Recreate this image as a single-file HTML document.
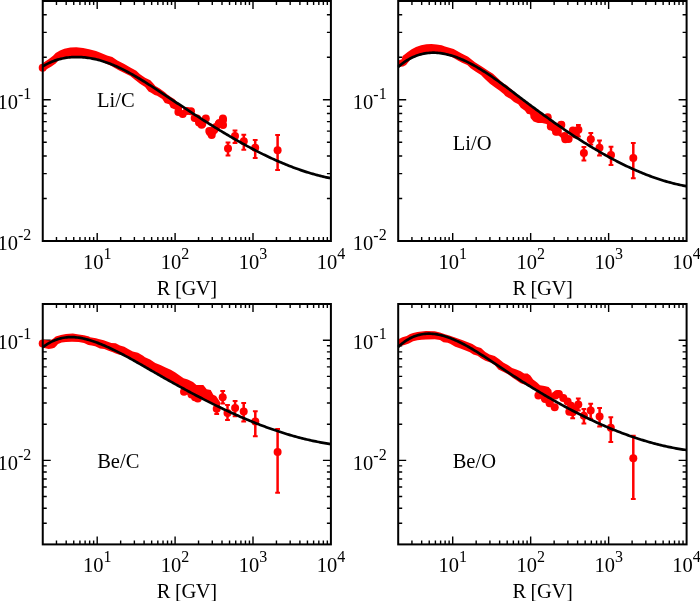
<!DOCTYPE html>
<html><head><meta charset="utf-8"><style>
html,body{margin:0;padding:0;background:#fff;}
svg{display:block;will-change:transform;}
text{font-family:"Liberation Serif",serif;font-size:20.5px;fill:#000;}
</style></head><body>
<svg width="700" height="601" viewBox="0 0 700 601">
<path d="M56.47 241v-4M56.47 1v4M66.2 241v-4M66.2 1v4M73.75 241v-4M73.75 1v4M79.92 241v-4M79.92 1v4M85.13 241v-4M85.13 1v4M89.65 241v-4M89.65 1v4M93.64 241v-4M93.64 1v4M97.2 241v-8M97.2 1v8M120.65 241v-4M120.65 1v4M134.37 241v-4M134.37 1v4M144.1 241v-4M144.1 1v4M151.65 241v-4M151.65 1v4M157.82 241v-4M157.82 1v4M163.03 241v-4M163.03 1v4M167.55 241v-4M167.55 1v4M171.54 241v-4M171.54 1v4M175.1 241v-8M175.1 1v8M198.55 241v-4M198.55 1v4M212.27 241v-4M212.27 1v4M222 241v-4M222 1v4M229.55 241v-4M229.55 1v4M235.72 241v-4M235.72 1v4M240.93 241v-4M240.93 1v4M245.45 241v-4M245.45 1v4M249.44 241v-4M249.44 1v4M253 241v-8M253 1v8M276.45 241v-4M276.45 1v4M290.17 241v-4M290.17 1v4M299.9 241v-4M299.9 1v4M307.45 241v-4M307.45 1v4M313.62 241v-4M313.62 1v4M318.83 241v-4M318.83 1v4M323.35 241v-4M323.35 1v4M327.34 241v-4M327.34 1v4M42.75 198.48h4M330.9 198.48h-4M42.75 173.6h4M330.9 173.6h-4M42.75 155.95h4M330.9 155.95h-4M42.75 142.26h4M330.9 142.26h-4M42.75 131.08h4M330.9 131.08h-4M42.75 121.62h4M330.9 121.62h-4M42.75 113.43h4M330.9 113.43h-4M42.75 106.2h4M330.9 106.2h-4M42.75 99.74h8M330.9 99.74h-8M42.75 57.21h4M330.9 57.21h-4M42.75 32.34h4M330.9 32.34h-4M42.75 14.69h4M330.9 14.69h-4" stroke="#000" stroke-width="1.4" fill="none"/>
<g fill="#ff0000"><path d="M42 63.4 L43.7 62.6 L48.9 59.1 L53.1 55.7 L55.7 53.1 L60 50.6 L64.3 48.7 L70.3 47.6 L76.3 47.3 L83.1 48 L89.1 49.3 L96 51 L98.6 52 L107.1 55.4 L112.3 57.1 L117.4 60.6 L124.3 64 L130.3 67.4 L136.3 70.8 L140 74.3 L145.1 77.7 L150.3 80.3 L152.9 82.9 L155.4 85.9 L159.7 88.4 L164.9 92.3 L167.4 94.4 L171.7 97.4 L174.3 99.1 L178.6 103.4 L182 106 L182 110 L176 110 L170.8 107.7 L169.1 104.3 L164.9 103 L162.3 99.1 L157.1 95.7 L154.6 94.9 L151.1 92.7 L148.6 91.4 L145.1 87.1 L140 83.7 L134.6 79.4 L130.3 76 L124.3 73 L118.3 70 L111.4 66.1 L104.6 63.1 L100 60.5 L90 58.2 L80 57 L70 57 L60 58 L57.9 60.9 L55.7 63.4 L51.4 66.4 L47.1 69 L43.3 71.1 L42 71.2Z"/><circle cx="42.7" cy="67.7" r="4.0"/><circle cx="178.4" cy="112.1" r="4.0"/><circle cx="182.7" cy="114" r="4.0"/><circle cx="187" cy="111" r="4.0"/><circle cx="191" cy="111.3" r="4.0"/><circle cx="194.7" cy="118.1" r="4.0"/><circle cx="197.1" cy="118.6" r="4.0"/><circle cx="199" cy="122.4" r="4.0"/><circle cx="201.6" cy="124.7" r="4.0"/><circle cx="202.3" cy="123.7" r="4.0"/><circle cx="205.8" cy="118.6" r="4.0"/><circle cx="209.3" cy="131" r="4.0"/><circle cx="210" cy="132.3" r="4.0"/><circle cx="211.7" cy="134.9" r="4.0"/><circle cx="212.6" cy="131.4" r="4.0"/><circle cx="213.6" cy="130.1" r="4.0"/><circle cx="214.3" cy="129.7" r="4.0"/><circle cx="216" cy="127.1" r="4.0"/><circle cx="218.7" cy="124.1" r="4.0"/><circle cx="219.4" cy="122.9" r="4.0"/><circle cx="222.9" cy="118.6" r="4.0"/><circle cx="223" cy="119.9" r="4.0"/><circle cx="223" cy="125" r="4.0"/><circle cx="228" cy="148.6" r="4.0"/><circle cx="235" cy="136.1" r="4.0"/><circle cx="243.8" cy="141.3" r="4.0"/><circle cx="255.2" cy="147.7" r="4.0"/><circle cx="277.6" cy="150.2" r="4.0"/></g>
<path d="M228 142.6V155.4M235 130.6V143M243.8 134.8V149.8M255.2 140V158M277.6 135V170.1" stroke="#ff0000" stroke-width="2.5" fill="none"/>
<path d="M225.6 142.6h4.8M225.6 155.4h4.8M232.6 130.6h4.8M232.6 143h4.8M241.4 134.8h4.8M241.4 149.8h4.8M252.8 140h4.8M252.8 158h4.8M275.2 135h4.8M275.2 170.1h4.8" stroke="#ff0000" stroke-width="2" fill="none"/>
<path d="M42.75 66.35 L44.25 65.46 L45.75 64.63 L47.25 63.84 L48.75 63.11 L50.25 62.42 L51.75 61.77 L53.25 61.18 L54.75 60.63 L56.25 60.12 L57.75 59.65 L59.25 59.23 L60.75 58.85 L62.25 58.5 L63.75 58.2 L65.25 57.93 L66.75 57.7 L68.25 57.51 L69.75 57.35 L71.25 57.22 L72.75 57.13 L74.25 57.06 L75.75 57.03 L77.25 57.03 L78.75 57.06 L80.25 57.11 L81.75 57.2 L83.25 57.31 L84.75 57.45 L86.25 57.62 L87.75 57.81 L89.25 58.03 L90.75 58.28 L92.25 58.56 L93.75 58.86 L95.25 59.18 L96.75 59.54 L98.25 59.91 L99.75 60.32 L101.25 60.74 L102.75 61.19 L104.25 61.67 L105.75 62.17 L107.25 62.69 L108.75 63.24 L110.25 63.8 L111.75 64.39 L113.25 65.01 L114.75 65.64 L116.25 66.3 L117.75 66.97 L119.25 67.67 L120.75 68.39 L122.25 69.12 L123.75 69.88 L125.25 70.65 L126.75 71.44 L128.25 72.24 L129.75 73.06 L131.25 73.9 L132.75 74.74 L134.25 75.6 L135.75 76.48 L137.25 77.36 L138.75 78.26 L140.25 79.16 L141.75 80.08 L143.25 81 L144.75 81.94 L146.25 82.87 L147.75 83.82 L149.25 84.77 L150.75 85.73 L152.25 86.69 L153.75 87.66 L155.25 88.64 L156.75 89.61 L158.25 90.59 L159.75 91.58 L161.25 92.57 L162.75 93.56 L164.25 94.55 L165.75 95.54 L167.25 96.54 L168.75 97.53 L170.25 98.53 L171.75 99.52 L173.25 100.52 L174.75 101.51 L176.25 102.51 L177.75 103.5 L179.25 104.49 L180.75 105.48 L182.25 106.47 L183.75 107.45 L185.25 108.43 L186.75 109.42 L188.25 110.4 L189.75 111.37 L191.25 112.35 L192.75 113.32 L194.25 114.29 L195.75 115.26 L197.25 116.22 L198.75 117.18 L200.25 118.14 L201.75 119.1 L203.25 120.05 L204.75 121 L206.25 121.95 L207.75 122.89 L209.25 123.83 L210.75 124.76 L212.25 125.69 L213.75 126.62 L215.25 127.54 L216.75 128.46 L218.25 129.38 L219.75 130.29 L221.25 131.2 L222.75 132.1 L224.25 133 L225.75 133.89 L227.25 134.78 L228.75 135.66 L230.25 136.54 L231.75 137.41 L233.25 138.28 L234.75 139.14 L236.25 139.99 L237.75 140.84 L239.25 141.69 L240.75 142.53 L242.25 143.36 L243.75 144.19 L245.25 145.01 L246.75 145.82 L248.25 146.63 L249.75 147.43 L251.25 148.23 L252.75 149.02 L254.25 149.8 L255.75 150.58 L257.25 151.34 L258.75 152.11 L260.25 152.86 L261.75 153.61 L263.25 154.35 L264.75 155.08 L266.25 155.8 L267.75 156.52 L269.25 157.23 L270.75 157.93 L272.25 158.62 L273.75 159.3 L275.25 159.98 L276.75 160.65 L278.25 161.31 L279.75 161.96 L281.25 162.6 L282.75 163.23 L284.25 163.86 L285.75 164.47 L287.25 165.08 L288.75 165.68 L290.25 166.27 L291.75 166.84 L293.25 167.41 L294.75 167.97 L296.25 168.52 L297.75 169.06 L299.25 169.59 L300.75 170.11 L302.25 170.62 L303.75 171.12 L305.25 171.61 L306.75 172.09 L308.25 172.56 L309.75 173.01 L311.25 173.46 L312.75 173.9 L314.25 174.32 L315.75 174.73 L317.25 175.14 L318.75 175.53 L320.25 175.91 L321.75 176.27 L323.25 176.63 L324.75 176.98 L326.25 177.31 L327.75 177.63 L329.25 177.94 L330.75 178.23 L330.9 178.26" stroke="#000" stroke-width="2.7" fill="none" stroke-linejoin="round"/>
<rect x="42.75" y="1" width="288.15" height="240" stroke="#000" stroke-width="2" fill="none"/>
<text x="97.2" y="269" text-anchor="middle">10<tspan font-size="16.0" dy="-10.3">1</tspan></text>
<text x="175.1" y="269" text-anchor="middle">10<tspan font-size="16.0" dy="-10.3">2</tspan></text>
<text x="253" y="269" text-anchor="middle">10<tspan font-size="16.0" dy="-10.3">3</tspan></text>
<text x="330.9" y="269" text-anchor="middle">10<tspan font-size="16.0" dy="-10.3">4</tspan></text>
<text x="31.25" y="108.94" text-anchor="end">10<tspan font-size="16.0" dy="-8.8">-</tspan><tspan font-size="16.0" dy="-1.2">1</tspan></text>
<text x="31.25" y="250.2" text-anchor="end">10<tspan font-size="16.0" dy="-8.8">-</tspan><tspan font-size="16.0" dy="-1.2">2</tspan></text>
<text x="186.82" y="295" text-anchor="middle" letter-spacing="-0.35">R [GV]</text>
<text x="97" y="107.1">Li/C</text>
<path d="M411.93 241v-4M411.93 1v4M421.67 241v-4M421.67 1v4M429.23 241v-4M429.23 1v4M435.4 241v-4M435.4 1v4M440.62 241v-4M440.62 1v4M445.14 241v-4M445.14 1v4M449.13 241v-4M449.13 1v4M452.7 241v-8M452.7 1v8M476.17 241v-4M476.17 1v4M489.9 241v-4M489.9 1v4M499.64 241v-4M499.64 1v4M507.19 241v-4M507.19 1v4M513.37 241v-4M513.37 1v4M518.59 241v-4M518.59 1v4M523.11 241v-4M523.11 1v4M527.1 241v-4M527.1 1v4M530.66 241v-8M530.66 1v8M554.14 241v-4M554.14 1v4M567.86 241v-4M567.86 1v4M577.61 241v-4M577.61 1v4M585.16 241v-4M585.16 1v4M591.34 241v-4M591.34 1v4M596.56 241v-4M596.56 1v4M601.08 241v-4M601.08 1v4M605.06 241v-4M605.06 1v4M608.63 241v-8M608.63 1v8M632.1 241v-4M632.1 1v4M645.83 241v-4M645.83 1v4M655.57 241v-4M655.57 1v4M663.13 241v-4M663.13 1v4M669.3 241v-4M669.3 1v4M674.52 241v-4M674.52 1v4M679.04 241v-4M679.04 1v4M683.03 241v-4M683.03 1v4M398.2 198.48h4M686.6 198.48h-4M398.2 173.6h4M686.6 173.6h-4M398.2 155.95h4M686.6 155.95h-4M398.2 142.26h4M686.6 142.26h-4M398.2 131.08h4M686.6 131.08h-4M398.2 121.62h4M686.6 121.62h-4M398.2 113.43h4M686.6 113.43h-4M398.2 106.2h4M686.6 106.2h-4M398.2 99.74h8M686.6 99.74h-8M398.2 57.21h4M686.6 57.21h-4M398.2 32.34h4M686.6 32.34h-4M398.2 14.69h4M686.6 14.69h-4" stroke="#000" stroke-width="1.4" fill="none"/>
<g fill="#ff0000"><path d="M398.5 60.5 L401.7 59.3 L402.6 55.9 L404.6 54.6 L407.4 52.3 L411.7 49.3 L416 47.1 L421.1 45.3 L426.3 44.3 L431.4 44.1 L436.6 44.4 L441.7 45.3 L445 46.4 L453.6 49 L462.1 53.7 L468.1 56.7 L475 62.3 L481.8 66.6 L487.8 70.4 L493 73.8 L498.1 78.6 L502.9 82.9 L507.1 85.4 L509.7 88 L515 92.5 L520 96.5 L525 101.7 L529.3 104.7 L533.6 107.9 L537.9 111.4 L542.1 114.1 L546.4 117.4 L550.7 120.1 L555 122.7 L561.7 127 L561.7 138 L557.1 134.6 L551.4 131.1 L548 125.4 L546.4 124 L542.1 123.1 L537.9 123.1 L533.6 121.4 L530.6 118 L530.1 114.6 L527.1 113.7 L525 110.7 L520.8 107.7 L518.3 104.3 L514 102.1 L510.6 99.1 L505.4 96.1 L503.7 94 L499.4 90.6 L495.1 87.6 L490 83.7 L484.4 78.6 L481 75.1 L475.8 71.7 L470.7 68.3 L467.3 64.9 L462.1 62.7 L457.9 60.6 L453.6 58 L450.1 55.9 L442 54 L435 53 L428 53 L421 54 L415 56.5 L412.6 58 L410.3 59.7 L408 62.6 L406 65 L403.1 66.5 L400.3 66.8 L398.5 66.8Z"/><circle cx="547.7" cy="117.3" r="4.0"/><circle cx="561.1" cy="125" r="4.0"/><circle cx="550.8" cy="126.6" r="4.0"/><circle cx="556" cy="131.7" r="4.0"/><circle cx="557.3" cy="131.4" r="4.0"/><circle cx="561.3" cy="124.7" r="4.0"/><circle cx="564.6" cy="136" r="4.0"/><circle cx="565.3" cy="139.2" r="4.0"/><circle cx="568.6" cy="139.1" r="4.0"/><circle cx="572.9" cy="130.6" r="4.0"/><circle cx="575.5" cy="134.5" r="4.0"/><circle cx="578.4" cy="129.7" r="4.0"/><circle cx="583.9" cy="153.1" r="4.0"/><circle cx="590.8" cy="139.3" r="4.0"/><circle cx="599.5" cy="147.7" r="4.0"/><circle cx="611" cy="155" r="4.0"/><circle cx="633.3" cy="157.9" r="4.0"/></g>
<path d="M578.4 125V136.5M583.9 147.1V160.5M590.8 133.1V144.6M599.5 140.5V155.6M611 146.7V165.1M633.3 142.9V178.3" stroke="#ff0000" stroke-width="2.5" fill="none"/>
<path d="M576 125h4.8M576 136.5h4.8M581.5 147.1h4.8M581.5 160.5h4.8M588.4 133.1h4.8M588.4 144.6h4.8M597.1 140.5h4.8M597.1 155.6h4.8M608.6 146.7h4.8M608.6 165.1h4.8M630.9 142.9h4.8M630.9 178.3h4.8" stroke="#ff0000" stroke-width="2" fill="none"/>
<path d="M398.2 66.93 L399.7 65.65 L401.2 64.44 L402.7 63.29 L404.2 62.21 L405.7 61.19 L407.2 60.24 L408.7 59.35 L410.2 58.52 L411.7 57.76 L413.2 57.05 L414.7 56.39 L416.2 55.8 L417.7 55.26 L419.2 54.78 L420.7 54.35 L422.2 53.97 L423.7 53.65 L425.2 53.37 L426.7 53.14 L428.2 52.97 L429.7 52.84 L431.2 52.75 L432.7 52.71 L434.2 52.72 L435.7 52.77 L437.2 52.86 L438.7 52.99 L440.2 53.16 L441.7 53.37 L443.2 53.61 L444.7 53.9 L446.2 54.21 L447.7 54.57 L449.2 54.95 L450.7 55.37 L452.2 55.82 L453.7 56.3 L455.2 56.81 L456.7 57.35 L458.2 57.91 L459.7 58.51 L461.2 59.13 L462.7 59.78 L464.2 60.45 L465.7 61.15 L467.2 61.88 L468.7 62.62 L470.2 63.4 L471.7 64.19 L473.2 65 L474.7 65.84 L476.2 66.7 L477.7 67.57 L479.2 68.47 L480.7 69.38 L482.2 70.31 L483.7 71.26 L485.2 72.22 L486.7 73.2 L488.2 74.2 L489.7 75.21 L491.2 76.23 L492.7 77.26 L494.2 78.31 L495.7 79.37 L497.2 80.44 L498.7 81.51 L500.2 82.6 L501.7 83.7 L503.2 84.8 L504.7 85.91 L506.2 87.03 L507.7 88.15 L509.2 89.27 L510.7 90.4 L512.2 91.54 L513.7 92.67 L515.2 93.81 L516.7 94.95 L518.2 96.08 L519.7 97.22 L521.2 98.36 L522.7 99.49 L524.2 100.62 L525.7 101.75 L527.2 102.88 L528.7 104 L530.2 105.12 L531.7 106.23 L533.2 107.35 L534.7 108.46 L536.2 109.56 L537.7 110.67 L539.2 111.76 L540.7 112.86 L542.2 113.95 L543.7 115.04 L545.2 116.12 L546.7 117.2 L548.2 118.27 L549.7 119.34 L551.2 120.41 L552.7 121.47 L554.2 122.53 L555.7 123.58 L557.2 124.62 L558.7 125.67 L560.2 126.7 L561.7 127.73 L563.2 128.76 L564.7 129.78 L566.2 130.8 L567.7 131.81 L569.2 132.81 L570.7 133.81 L572.2 134.8 L573.7 135.79 L575.2 136.77 L576.7 137.75 L578.2 138.72 L579.7 139.68 L581.2 140.64 L582.7 141.59 L584.2 142.53 L585.7 143.47 L587.2 144.4 L588.7 145.32 L590.2 146.24 L591.7 147.15 L593.2 148.05 L594.7 148.94 L596.2 149.83 L597.7 150.71 L599.2 151.59 L600.7 152.45 L602.2 153.31 L603.7 154.16 L605.2 155 L606.7 155.83 L608.2 156.66 L609.7 157.48 L611.2 158.29 L612.7 159.09 L614.2 159.88 L615.7 160.67 L617.2 161.44 L618.7 162.21 L620.2 162.97 L621.7 163.72 L623.2 164.46 L624.7 165.19 L626.2 165.91 L627.7 166.62 L629.2 167.32 L630.7 168.02 L632.2 168.7 L633.7 169.38 L635.2 170.04 L636.7 170.7 L638.2 171.34 L639.7 171.98 L641.2 172.6 L642.7 173.21 L644.2 173.82 L645.7 174.41 L647.2 175 L648.7 175.57 L650.2 176.13 L651.7 176.68 L653.2 177.22 L654.7 177.75 L656.2 178.27 L657.7 178.77 L659.2 179.27 L660.7 179.75 L662.2 180.23 L663.7 180.69 L665.2 181.14 L666.7 181.58 L668.2 182 L669.7 182.41 L671.2 182.82 L672.7 183.21 L674.2 183.58 L675.7 183.95 L677.2 184.3 L678.7 184.64 L680.2 184.97 L681.7 185.28 L683.2 185.59 L684.7 185.88 L686.2 186.15 L686.6 186.22" stroke="#000" stroke-width="2.7" fill="none" stroke-linejoin="round"/>
<rect x="398.2" y="1" width="288.4" height="240" stroke="#000" stroke-width="2" fill="none"/>
<text x="452.7" y="269" text-anchor="middle">10<tspan font-size="16.0" dy="-10.3">1</tspan></text>
<text x="530.66" y="269" text-anchor="middle">10<tspan font-size="16.0" dy="-10.3">2</tspan></text>
<text x="608.63" y="269" text-anchor="middle">10<tspan font-size="16.0" dy="-10.3">3</tspan></text>
<text x="686.6" y="269" text-anchor="middle">10<tspan font-size="16.0" dy="-10.3">4</tspan></text>
<text x="386.7" y="108.94" text-anchor="end">10<tspan font-size="16.0" dy="-8.8">-</tspan><tspan font-size="16.0" dy="-1.2">1</tspan></text>
<text x="386.7" y="250.2" text-anchor="end">10<tspan font-size="16.0" dy="-8.8">-</tspan><tspan font-size="16.0" dy="-1.2">2</tspan></text>
<text x="542.4" y="295" text-anchor="middle" letter-spacing="-0.35">R [GV]</text>
<text x="452.8" y="150.1">Li/O</text>
<path d="M56.47 544.4v-4M56.47 304v4M66.2 544.4v-4M66.2 304v4M73.75 544.4v-4M73.75 304v4M79.92 544.4v-4M79.92 304v4M85.13 544.4v-4M85.13 304v4M89.65 544.4v-4M89.65 304v4M93.64 544.4v-4M93.64 304v4M97.2 544.4v-8M97.2 304v8M120.65 544.4v-4M120.65 304v4M134.37 544.4v-4M134.37 304v4M144.1 544.4v-4M144.1 304v4M151.65 544.4v-4M151.65 304v4M157.82 544.4v-4M157.82 304v4M163.03 544.4v-4M163.03 304v4M167.55 544.4v-4M167.55 304v4M171.54 544.4v-4M171.54 304v4M175.1 544.4v-8M175.1 304v8M198.55 544.4v-4M198.55 304v4M212.27 544.4v-4M212.27 304v4M222 544.4v-4M222 304v4M229.55 544.4v-4M229.55 304v4M235.72 544.4v-4M235.72 304v4M240.93 544.4v-4M240.93 304v4M245.45 544.4v-4M245.45 304v4M249.44 544.4v-4M249.44 304v4M253 544.4v-8M253 304v8M276.45 544.4v-4M276.45 304v4M290.17 544.4v-4M290.17 304v4M299.9 544.4v-4M299.9 304v4M307.45 544.4v-4M307.45 304v4M313.62 544.4v-4M313.62 304v4M318.83 544.4v-4M318.83 304v4M323.35 544.4v-4M323.35 304v4M327.34 544.4v-4M327.34 304v4M42.75 523.23h4M330.9 523.23h-4M42.75 508.22h4M330.9 508.22h-4M42.75 496.57h4M330.9 496.57h-4M42.75 487.05h4M330.9 487.05h-4M42.75 479h4M330.9 479h-4M42.75 472.03h4M330.9 472.03h-4M42.75 465.88h4M330.9 465.88h-4M42.75 460.38h8M330.9 460.38h-8M42.75 424.2h4M330.9 424.2h-4M42.75 403.03h4M330.9 403.03h-4M42.75 388.02h4M330.9 388.02h-4M42.75 376.37h4M330.9 376.37h-4M42.75 366.85h4M330.9 366.85h-4M42.75 358.8h4M330.9 358.8h-4M42.75 351.83h4M330.9 351.83h-4M42.75 345.68h4M330.9 345.68h-4M42.75 340.18h8M330.9 340.18h-8" stroke="#000" stroke-width="1.4" fill="none"/>
<g fill="#ff0000"><path d="M42 340.2 L44.6 340 L49.7 340.4 L53.1 338.7 L55.7 336.6 L60.9 334.9 L66 334 L72.8 333.6 L78.8 334.4 L84 335.3 L89.1 336.6 L90 337.3 L96 338.3 L98.6 339 L103.7 340.3 L107.1 341.6 L111.4 342.9 L115.7 343.3 L120 345.4 L124.3 346.7 L128.6 349.3 L132.8 351.4 L138 352.7 L143.1 355.7 L145 357.3 L150.1 359.4 L155.3 362.9 L160.4 365 L165.6 367.6 L170.7 369.7 L175 372.3 L179.3 375.3 L183.6 378.3 L187.8 379.6 L193 382.1 L196.4 385.1 L200 385 L203.3 385 L206.7 389.3 L210.7 390 L213.3 394.7 L216 396 L218.7 400 L220 402 L220 406.7 L210 403 L200 397 L192 392.5 L186 389.4 L179.3 385.6 L170.7 380.8 L162.1 376.1 L153.6 371.4 L141.4 364.7 L132.8 360.4 L124.3 355.7 L121.4 354.6 L119.3 354.8 L117.1 354.1 L115 353.3 L112.9 352.2 L108.6 350.7 L104.3 349 L100 348.5 L95.1 346.3 L91.7 345.6 L88.3 345.1 L84 343 L78.8 342.1 L72 341.7 L66 342.1 L61.7 342.6 L58 343.9 L56.3 346 L54.5 347.8 L52 348.6 L48.6 349 L44.3 348.1 L42 347.3Z"/><circle cx="42.7" cy="343.4" r="4.0"/><circle cx="184" cy="391.8" r="4.0"/><circle cx="190.1" cy="391.4" r="4.0"/><circle cx="191.5" cy="394.5" r="4.0"/><circle cx="195" cy="397.2" r="4.0"/><circle cx="197.8" cy="398.4" r="4.0"/><circle cx="222.7" cy="397.2" r="4.0"/><circle cx="216.7" cy="408.8" r="4.0"/><circle cx="227.5" cy="413" r="4.0"/><circle cx="235.1" cy="408" r="4.0"/><circle cx="243.7" cy="411.6" r="4.0"/><circle cx="255.3" cy="421.5" r="4.0"/><circle cx="277.6" cy="451.9" r="4.0"/></g>
<path d="M222.7 391V403.5M216.7 403V414M227.5 405.1V420M235.1 400.9V416.3M243.7 403V421.5M255.3 411.2V436.3M277.6 429.1V492.7" stroke="#ff0000" stroke-width="2.5" fill="none"/>
<path d="M220.3 391h4.8M220.3 403.5h4.8M214.3 403h4.8M214.3 414h4.8M225.1 405.1h4.8M225.1 420h4.8M232.7 400.9h4.8M232.7 416.3h4.8M241.3 403h4.8M241.3 421.5h4.8M252.9 411.2h4.8M252.9 436.3h4.8M275.2 429.1h4.8M275.2 492.7h4.8" stroke="#ff0000" stroke-width="2" fill="none"/>
<path d="M42.75 347.27 L44.25 346.14 L45.75 345.09 L47.25 344.12 L48.75 343.21 L50.25 342.37 L51.75 341.61 L53.25 340.9 L54.75 340.27 L56.25 339.7 L57.75 339.19 L59.25 338.74 L60.75 338.35 L62.25 338.01 L63.75 337.73 L65.25 337.51 L66.75 337.34 L68.25 337.22 L69.75 337.15 L71.25 337.13 L72.75 337.15 L74.25 337.22 L75.75 337.33 L77.25 337.48 L78.75 337.68 L80.25 337.91 L81.75 338.18 L83.25 338.48 L84.75 338.82 L86.25 339.19 L87.75 339.59 L89.25 340.02 L90.75 340.47 L92.25 340.96 L93.75 341.46 L95.25 342 L96.75 342.55 L98.25 343.12 L99.75 343.71 L101.25 344.31 L102.75 344.93 L104.25 345.57 L105.75 346.22 L107.25 346.89 L108.75 347.57 L110.25 348.26 L111.75 348.97 L113.25 349.68 L114.75 350.41 L116.25 351.16 L117.75 351.91 L119.25 352.67 L120.75 353.44 L122.25 354.23 L123.75 355.02 L125.25 355.82 L126.75 356.62 L128.25 357.44 L129.75 358.26 L131.25 359.09 L132.75 359.92 L134.25 360.76 L135.75 361.61 L137.25 362.46 L138.75 363.31 L140.25 364.17 L141.75 365.03 L143.25 365.89 L144.75 366.75 L146.25 367.62 L147.75 368.48 L149.25 369.35 L150.75 370.22 L152.25 371.09 L153.75 371.95 L155.25 372.82 L156.75 373.68 L158.25 374.54 L159.75 375.4 L161.25 376.26 L162.75 377.11 L164.25 377.96 L165.75 378.81 L167.25 379.66 L168.75 380.5 L170.25 381.34 L171.75 382.18 L173.25 383.02 L174.75 383.85 L176.25 384.69 L177.75 385.51 L179.25 386.34 L180.75 387.16 L182.25 387.98 L183.75 388.8 L185.25 389.61 L186.75 390.42 L188.25 391.22 L189.75 392.03 L191.25 392.83 L192.75 393.62 L194.25 394.42 L195.75 395.21 L197.25 395.99 L198.75 396.77 L200.25 397.55 L201.75 398.32 L203.25 399.09 L204.75 399.86 L206.25 400.62 L207.75 401.38 L209.25 402.14 L210.75 402.89 L212.25 403.63 L213.75 404.37 L215.25 405.11 L216.75 405.84 L218.25 406.57 L219.75 407.29 L221.25 408.01 L222.75 408.73 L224.25 409.44 L225.75 410.14 L227.25 410.84 L228.75 411.54 L230.25 412.23 L231.75 412.91 L233.25 413.59 L234.75 414.27 L236.25 414.94 L237.75 415.6 L239.25 416.26 L240.75 416.92 L242.25 417.56 L243.75 418.21 L245.25 418.84 L246.75 419.48 L248.25 420.1 L249.75 420.72 L251.25 421.34 L252.75 421.95 L254.25 422.55 L255.75 423.14 L257.25 423.74 L258.75 424.32 L260.25 424.9 L261.75 425.47 L263.25 426.04 L264.75 426.6 L266.25 427.15 L267.75 427.7 L269.25 428.24 L270.75 428.77 L272.25 429.3 L273.75 429.82 L275.25 430.33 L276.75 430.84 L278.25 431.34 L279.75 431.83 L281.25 432.32 L282.75 432.8 L284.25 433.27 L285.75 433.73 L287.25 434.19 L288.75 434.64 L290.25 435.09 L291.75 435.52 L293.25 435.95 L294.75 436.37 L296.25 436.78 L297.75 437.19 L299.25 437.59 L300.75 437.98 L302.25 438.36 L303.75 438.73 L305.25 439.1 L306.75 439.46 L308.25 439.81 L309.75 440.15 L311.25 440.48 L312.75 440.81 L314.25 441.13 L315.75 441.44 L317.25 441.74 L318.75 442.03 L320.25 442.31 L321.75 442.59 L323.25 442.85 L324.75 443.11 L326.25 443.36 L327.75 443.6 L329.25 443.83 L330.75 444.05 L330.9 444.07" stroke="#000" stroke-width="2.7" fill="none" stroke-linejoin="round"/>
<rect x="42.75" y="304" width="288.15" height="240.4" stroke="#000" stroke-width="2" fill="none"/>
<text x="97.2" y="572.4" text-anchor="middle">10<tspan font-size="16.0" dy="-10.3">1</tspan></text>
<text x="175.1" y="572.4" text-anchor="middle">10<tspan font-size="16.0" dy="-10.3">2</tspan></text>
<text x="253" y="572.4" text-anchor="middle">10<tspan font-size="16.0" dy="-10.3">3</tspan></text>
<text x="330.9" y="572.4" text-anchor="middle">10<tspan font-size="16.0" dy="-10.3">4</tspan></text>
<text x="31.25" y="349.38" text-anchor="end">10<tspan font-size="16.0" dy="-8.8">-</tspan><tspan font-size="16.0" dy="-1.2">1</tspan></text>
<text x="31.25" y="469.58" text-anchor="end">10<tspan font-size="16.0" dy="-8.8">-</tspan><tspan font-size="16.0" dy="-1.2">2</tspan></text>
<text x="186.82" y="598.4" text-anchor="middle" letter-spacing="-0.35">R [GV]</text>
<text x="97.2" y="468">Be/C</text>
<path d="M411.93 544.4v-4M411.93 304v4M421.67 544.4v-4M421.67 304v4M429.23 544.4v-4M429.23 304v4M435.4 544.4v-4M435.4 304v4M440.62 544.4v-4M440.62 304v4M445.14 544.4v-4M445.14 304v4M449.13 544.4v-4M449.13 304v4M452.7 544.4v-8M452.7 304v8M476.17 544.4v-4M476.17 304v4M489.9 544.4v-4M489.9 304v4M499.64 544.4v-4M499.64 304v4M507.19 544.4v-4M507.19 304v4M513.37 544.4v-4M513.37 304v4M518.59 544.4v-4M518.59 304v4M523.11 544.4v-4M523.11 304v4M527.1 544.4v-4M527.1 304v4M530.66 544.4v-8M530.66 304v8M554.14 544.4v-4M554.14 304v4M567.86 544.4v-4M567.86 304v4M577.61 544.4v-4M577.61 304v4M585.16 544.4v-4M585.16 304v4M591.34 544.4v-4M591.34 304v4M596.56 544.4v-4M596.56 304v4M601.08 544.4v-4M601.08 304v4M605.06 544.4v-4M605.06 304v4M608.63 544.4v-8M608.63 304v8M632.1 544.4v-4M632.1 304v4M645.83 544.4v-4M645.83 304v4M655.57 544.4v-4M655.57 304v4M663.13 544.4v-4M663.13 304v4M669.3 544.4v-4M669.3 304v4M674.52 544.4v-4M674.52 304v4M679.04 544.4v-4M679.04 304v4M683.03 544.4v-4M683.03 304v4M398.2 523.23h4M686.6 523.23h-4M398.2 508.22h4M686.6 508.22h-4M398.2 496.57h4M686.6 496.57h-4M398.2 487.05h4M686.6 487.05h-4M398.2 479h4M686.6 479h-4M398.2 472.03h4M686.6 472.03h-4M398.2 465.88h4M686.6 465.88h-4M398.2 460.38h8M686.6 460.38h-8M398.2 424.2h4M686.6 424.2h-4M398.2 403.03h4M686.6 403.03h-4M398.2 388.02h4M686.6 388.02h-4M398.2 376.37h4M686.6 376.37h-4M398.2 366.85h4M686.6 366.85h-4M398.2 358.8h4M686.6 358.8h-4M398.2 351.83h4M686.6 351.83h-4M398.2 345.68h4M686.6 345.68h-4M398.2 340.18h8M686.6 340.18h-8" stroke="#000" stroke-width="1.4" fill="none"/>
<g fill="#ff0000"><path d="M398.5 339 L399.4 338.7 L402.4 337.2 L406.7 336.1 L410.1 334 L413.1 333.1 L417.4 332.1 L421.7 331.4 L426 331 L434.8 331.3 L440 332.4 L445 334.3 L449.3 335.6 L453.6 336.9 L457.9 338.6 L462.1 339.9 L467.3 342 L472.4 344.1 L476.7 346.7 L481 348 L485.3 351.9 L489.6 354.4 L494.7 356.1 L499.3 359.3 L503.6 362.7 L507.9 364.9 L512.1 367.9 L516.4 369.6 L520.7 371.3 L524.1 373.4 L527.6 373.4 L530.3 375.5 L533.1 379.6 L537.1 382.4 L540 385.3 L544.6 385.9 L548.6 387 L551.4 389.9 L552 393.9 L552 399.5 L548.6 397.6 L542.9 394.1 L537.1 390.7 L531.4 387.5 L525.7 385 L520.7 383.3 L516.4 380.3 L513 378.1 L507.9 374.3 L503.6 372.1 L498.4 369.6 L494.7 365.1 L490.4 362.6 L485.3 360.8 L481 358.3 L477.6 355.7 L473.3 354.4 L469.9 352.3 L465.6 350.6 L460.4 348.4 L455.3 346.7 L450.1 343.7 L447.7 342.7 L443.4 342.3 L440 340.1 L434.8 339.3 L426 339.6 L421.7 339.8 L417.4 340.2 L413.1 341.3 L408.9 343.4 L404.6 345.1 L400.3 346 L398.5 346.5Z"/><circle cx="555.4" cy="395.6" r="4.0"/><circle cx="558.9" cy="393.9" r="4.0"/><circle cx="545.1" cy="399" r="4.0"/><circle cx="549.7" cy="401.9" r="4.0"/><circle cx="538.4" cy="395.6" r="4.0"/><circle cx="544.4" cy="397.3" r="4.0"/><circle cx="549.6" cy="403.3" r="4.0"/><circle cx="554.7" cy="407.3" r="4.0"/><circle cx="557.3" cy="394.1" r="4.0"/><circle cx="563.3" cy="398.1" r="4.0"/><circle cx="567.6" cy="401.6" r="4.0"/><circle cx="571" cy="405.8" r="4.0"/><circle cx="574.4" cy="409.3" r="4.0"/><circle cx="569.3" cy="411.8" r="4.0"/><circle cx="578.3" cy="404.4" r="4.0"/><circle cx="572.7" cy="412.3" r="4.0"/><circle cx="583.9" cy="415.7" r="4.0"/><circle cx="590.7" cy="410.4" r="4.0"/><circle cx="599.6" cy="416.6" r="4.0"/><circle cx="610.8" cy="427.8" r="4.0"/><circle cx="633.3" cy="458.2" r="4.0"/></g>
<path d="M578.3 398.4V410.6M572.7 408V418.3M583.9 408.9V423.4M590.7 403.7V418.7M599.6 407.9V426.5M610.8 417.2V441.9M633.3 435.8V499" stroke="#ff0000" stroke-width="2.5" fill="none"/>
<path d="M575.9 398.4h4.8M575.9 410.6h4.8M570.3 408h4.8M570.3 418.3h4.8M581.5 408.9h4.8M581.5 423.4h4.8M588.3 403.7h4.8M588.3 418.7h4.8M597.2 407.9h4.8M597.2 426.5h4.8M608.4 417.2h4.8M608.4 441.9h4.8M630.9 435.8h4.8M630.9 499h4.8" stroke="#ff0000" stroke-width="2" fill="none"/>
<path d="M398.2 346.95 L399.7 345.58 L401.2 344.3 L402.7 343.1 L404.2 341.98 L405.7 340.94 L407.2 339.97 L408.7 339.08 L410.2 338.27 L411.7 337.53 L413.2 336.86 L414.7 336.26 L416.2 335.73 L417.7 335.26 L419.2 334.86 L420.7 334.52 L422.2 334.24 L423.7 334.02 L425.2 333.86 L426.7 333.75 L428.2 333.7 L429.7 333.7 L431.2 333.75 L432.7 333.86 L434.2 334.01 L435.7 334.2 L437.2 334.44 L438.7 334.72 L440.2 335.05 L441.7 335.41 L443.2 335.81 L444.7 336.25 L446.2 336.72 L447.7 337.23 L449.2 337.76 L450.7 338.33 L452.2 338.92 L453.7 339.54 L455.2 340.19 L456.7 340.86 L458.2 341.55 L459.7 342.27 L461.2 343.02 L462.7 343.78 L464.2 344.56 L465.7 345.37 L467.2 346.19 L468.7 347.03 L470.2 347.89 L471.7 348.77 L473.2 349.65 L474.7 350.56 L476.2 351.47 L477.7 352.4 L479.2 353.34 L480.7 354.29 L482.2 355.25 L483.7 356.22 L485.2 357.2 L486.7 358.18 L488.2 359.17 L489.7 360.16 L491.2 361.16 L492.7 362.16 L494.2 363.16 L495.7 364.17 L497.2 365.17 L498.7 366.17 L500.2 367.17 L501.7 368.17 L503.2 369.17 L504.7 370.16 L506.2 371.15 L507.7 372.13 L509.2 373.11 L510.7 374.09 L512.2 375.07 L513.7 376.04 L515.2 377 L516.7 377.97 L518.2 378.92 L519.7 379.88 L521.2 380.83 L522.7 381.78 L524.2 382.72 L525.7 383.66 L527.2 384.59 L528.7 385.52 L530.2 386.45 L531.7 387.37 L533.2 388.29 L534.7 389.2 L536.2 390.11 L537.7 391.01 L539.2 391.91 L540.7 392.81 L542.2 393.7 L543.7 394.58 L545.2 395.47 L546.7 396.34 L548.2 397.21 L549.7 398.08 L551.2 398.94 L552.7 399.8 L554.2 400.65 L555.7 401.49 L557.2 402.33 L558.7 403.17 L560.2 404 L561.7 404.83 L563.2 405.65 L564.7 406.46 L566.2 407.27 L567.7 408.07 L569.2 408.87 L570.7 409.66 L572.2 410.45 L573.7 411.23 L575.2 412.01 L576.7 412.78 L578.2 413.54 L579.7 414.3 L581.2 415.05 L582.7 415.8 L584.2 416.53 L585.7 417.27 L587.2 418 L588.7 418.72 L590.2 419.43 L591.7 420.14 L593.2 420.84 L594.7 421.54 L596.2 422.23 L597.7 422.91 L599.2 423.59 L600.7 424.26 L602.2 424.92 L603.7 425.58 L605.2 426.23 L606.7 426.87 L608.2 427.51 L609.7 428.14 L611.2 428.76 L612.7 429.38 L614.2 429.99 L615.7 430.59 L617.2 431.18 L618.7 431.77 L620.2 432.35 L621.7 432.92 L623.2 433.49 L624.7 434.05 L626.2 434.6 L627.7 435.14 L629.2 435.68 L630.7 436.21 L632.2 436.73 L633.7 437.24 L635.2 437.75 L636.7 438.24 L638.2 438.73 L639.7 439.22 L641.2 439.69 L642.7 440.16 L644.2 440.61 L645.7 441.06 L647.2 441.51 L648.7 441.94 L650.2 442.36 L651.7 442.78 L653.2 443.19 L654.7 443.59 L656.2 443.98 L657.7 444.37 L659.2 444.74 L660.7 445.11 L662.2 445.47 L663.7 445.82 L665.2 446.16 L666.7 446.49 L668.2 446.81 L669.7 447.13 L671.2 447.43 L672.7 447.73 L674.2 448.02 L675.7 448.3 L677.2 448.57 L678.7 448.83 L680.2 449.08 L681.7 449.32 L683.2 449.55 L684.7 449.77 L686.2 449.99 L686.6 450.04" stroke="#000" stroke-width="2.7" fill="none" stroke-linejoin="round"/>
<rect x="398.2" y="304" width="288.4" height="240.4" stroke="#000" stroke-width="2" fill="none"/>
<text x="452.7" y="572.4" text-anchor="middle">10<tspan font-size="16.0" dy="-10.3">1</tspan></text>
<text x="530.66" y="572.4" text-anchor="middle">10<tspan font-size="16.0" dy="-10.3">2</tspan></text>
<text x="608.63" y="572.4" text-anchor="middle">10<tspan font-size="16.0" dy="-10.3">3</tspan></text>
<text x="686.6" y="572.4" text-anchor="middle">10<tspan font-size="16.0" dy="-10.3">4</tspan></text>
<text x="386.7" y="349.38" text-anchor="end">10<tspan font-size="16.0" dy="-8.8">-</tspan><tspan font-size="16.0" dy="-1.2">1</tspan></text>
<text x="386.7" y="469.58" text-anchor="end">10<tspan font-size="16.0" dy="-8.8">-</tspan><tspan font-size="16.0" dy="-1.2">2</tspan></text>
<text x="542.4" y="598.4" text-anchor="middle" letter-spacing="-0.35">R [GV]</text>
<text x="452.7" y="468">Be/O</text>
</svg>
</body></html>
